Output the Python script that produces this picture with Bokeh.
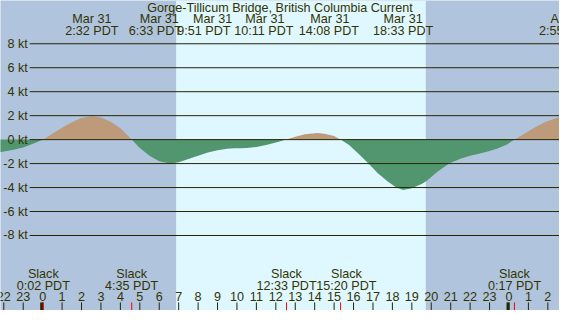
import numpy as np
from bokeh.plotting import figure
from bokeh.models import Range1d
from bokeh.embed import file_html
from bokeh.resources import INLINE
from bokeh.core.properties import value

# ---------------- data ----------------
chart_title = "Gorge-Tillicum Bridge, British Columbia Current"

# hours since midnight Mar 31 (PDT) and current speed in knots (+ flood, - ebb)
hours = [-2.2, -1.5, -1.0, -0.5, 0.033, 0.5, 1.0, 1.5, 2.0, 2.533, 3.0, 3.5, 4.0,
         4.583, 5.0, 5.5, 6.0, 6.55, 7.0, 7.5, 8.0, 8.5, 9.0, 9.5, 9.85, 10.183,
         10.5, 11.0, 11.5, 12.0, 12.55, 13.0, 13.5, 14.133, 14.5, 15.0, 15.333,
         15.77, 16.27, 16.77, 17.25, 17.76, 18.2, 18.55, 19.0, 19.5, 19.76, 20.3,
         20.92, 21.5, 22.0, 22.41, 23.0, 23.41, 23.9, 24.283, 24.8, 25.3, 25.9,
         26.48, 26.7]
speed = [-1.05, -0.85, -0.65, -0.35, 0.0, 0.5, 1.0, 1.45, 1.8, 1.95, 1.85, 1.5,
         0.95, 0.0, -0.7, -1.35, -1.8, -2.0, -1.88, -1.62, -1.35, -1.08, -0.88,
         -0.76, -0.72, -0.72, -0.70, -0.62, -0.45, -0.25, 0.0, 0.25, 0.45, 0.56,
         0.5, 0.3, 0.0, -0.45, -1.2, -2.0, -2.8, -3.5, -4.0, -4.2, -4.05, -3.7,
         -3.45, -2.7, -2.0, -1.6, -1.35, -1.2, -0.95, -0.75, -0.4, 0.0, 0.5, 1.0,
         1.5, 1.83, 1.9]

sunrise_h = 6.87
sunset_h = 19.72

ext_h = [2.533, 6.55, 9.85, 10.183, 14.133, 18.55, 26.917]
ext_date = ["Mar 31", "Mar 31", "Mar 31", "Mar 31", "Mar 31", "Mar 31", "Apr 1"]
ext_time = ["2:32 PDT", "6:33 PDT", "9:51 PDT", "10:11 PDT", "14:08 PDT",
            "18:33 PDT", "2:55 PDT"]

slack_h = [0.033, 4.583, 12.55, 15.333, 24.283]
slack_time = ["0:02 PDT", "4:35 PDT", "12:33 PDT", "15:20 PDT", "0:17 PDT"]

hour_ticks = list(range(-2, 27))
hour_labels = [str(h % 24) for h in hour_ticks]
midnights = [0, 24]

kt_ticks = [8, 6, 4, 2, 0, -2, -4, -6, -8]
kt_labels = [f"{k} kt" for k in kt_ticks]

# ---------------- layout / style ----------------
W, H = 559, 310
x_start, x_end = -2.17, 26.6
y_lo, y_hi = -14.26, 11.61
sx = W / 575.0
sy = H / 326.0
px_h = W / (x_end - x_start)      # pixels per hour
px_k = H / (y_hi - y_lo)          # pixels per knot

date_nudge_px = [0, -11, -22, 25, 13, 0, 0]
time_nudge_px = [0, -15, -31, 24, 12, 0, 0]
slack_nudge_px = [0, 0, 0, 6, 0]

NIGHT = "#B0C4DE"
DAY = "#DFF7FF"
FLOOD = "#BC9A7A"
EBB = "#52966F"
INK = "#333300"
LINE = "#262600"
FONT = value("Liberation Sans")
FS = "12.6px"


def y_from_top(px):
    return y_hi - px * sy / px_k


def y_from_bottom(px):
    return y_lo + px * sy / px_k


p = figure(width=W, height=H, output_backend="svg", toolbar_location=None,
           x_range=Range1d(x_start, x_end), y_range=Range1d(y_lo, y_hi),
           min_border=0, outline_line_color=None)
p.axis.visible = False
p.grid.visible = False
p.background_fill_color = NIGHT
p.border_fill_color = NIGHT

# daylight band
p.quad(left=[sunrise_h], right=[sunset_h], bottom=[y_lo], top=[y_hi],
       fill_color=DAY, line_color=None)

# current areas
hx = np.array(hours)
sp = np.array(speed)
p.varea(x=hx, y1=np.zeros_like(sp), y2=np.maximum(sp, 0), fill_color=FLOOD)
p.varea(x=hx, y1=np.minimum(sp, 0), y2=np.zeros_like(sp), fill_color=EBB)

# horizontal knot lines
gx0 = x_start + 30 * sx / px_h
p.segment(x0=[gx0] * len(kt_ticks), y0=kt_ticks, x1=[x_end] * len(kt_ticks),
          y1=kt_ticks, line_color=LINE, line_width=1)
p.text(x=[x_start] * len(kt_ticks), y=kt_ticks, text=kt_labels,
       x_offset=28 * sx, text_align="right", text_baseline="middle",
       text_font=FONT, text_font_size=FS, text_color=INK)

# title and extremes
p.text(x=[(x_start + x_end) / 2], y=[y_from_top(7.5)], text=[chart_title],
       text_align="center", text_baseline="middle",
       text_font=FONT, text_font_size=FS, text_color=INK)
p.text(x=[h + n * sx / px_h for h, n in zip(ext_h, date_nudge_px)],
       y=[y_from_top(19.5)] * len(ext_h), text=ext_date,
       text_align="center", text_baseline="middle",
       text_font=FONT, text_font_size=FS, text_color=INK)
p.text(x=[h + n * sx / px_h for h, n in zip(ext_h, time_nudge_px)],
       y=[y_from_top(32)] * len(ext_h), text=ext_time,
       text_align="center", text_baseline="middle",
       text_font=FONT, text_font_size=FS, text_color=INK)

# slack labels
p.text(x=[h + n * sx / px_h for h, n in zip(slack_h, slack_nudge_px)],
       y=[y_from_bottom(38.5)] * len(slack_h), text=["Slack"] * len(slack_h),
       text_align="center", text_baseline="middle",
       text_font=FONT, text_font_size=FS, text_color=INK)
p.text(x=[h + n * sx / px_h for h, n in zip(slack_h, slack_nudge_px)],
       y=[y_from_bottom(26)] * len(slack_h), text=slack_time,
       text_align="center", text_baseline="middle",
       text_font=FONT, text_font_size=FS, text_color=INK)

# hour labels and ticks
p.text(x=hour_ticks, y=[y_from_bottom(15)] * len(hour_ticks), text=hour_labels,
       text_align="center", text_baseline="middle",
       text_font=FONT, text_font_size=FS, text_color=INK)
tick_top = y_from_bottom(8.5)
p.segment(x0=hour_ticks, y0=[y_lo] * len(hour_ticks), x1=hour_ticks,
          y1=[tick_top] * len(hour_ticks), line_color=LINE, line_width=1)
p.segment(x0=[m - 0.05 for m in midnights], y0=[y_lo] * 2,
          x1=[m - 0.05 for m in midnights], y1=[tick_top] * 2,
          line_color=LINE, line_width=3)
p.segment(x0=slack_h, y0=[y_lo] * len(slack_h), x1=slack_h,
          y1=[tick_top] * len(slack_h), line_color="red", line_width=1)

open("out.html", "w").write(file_html(p, INLINE))
